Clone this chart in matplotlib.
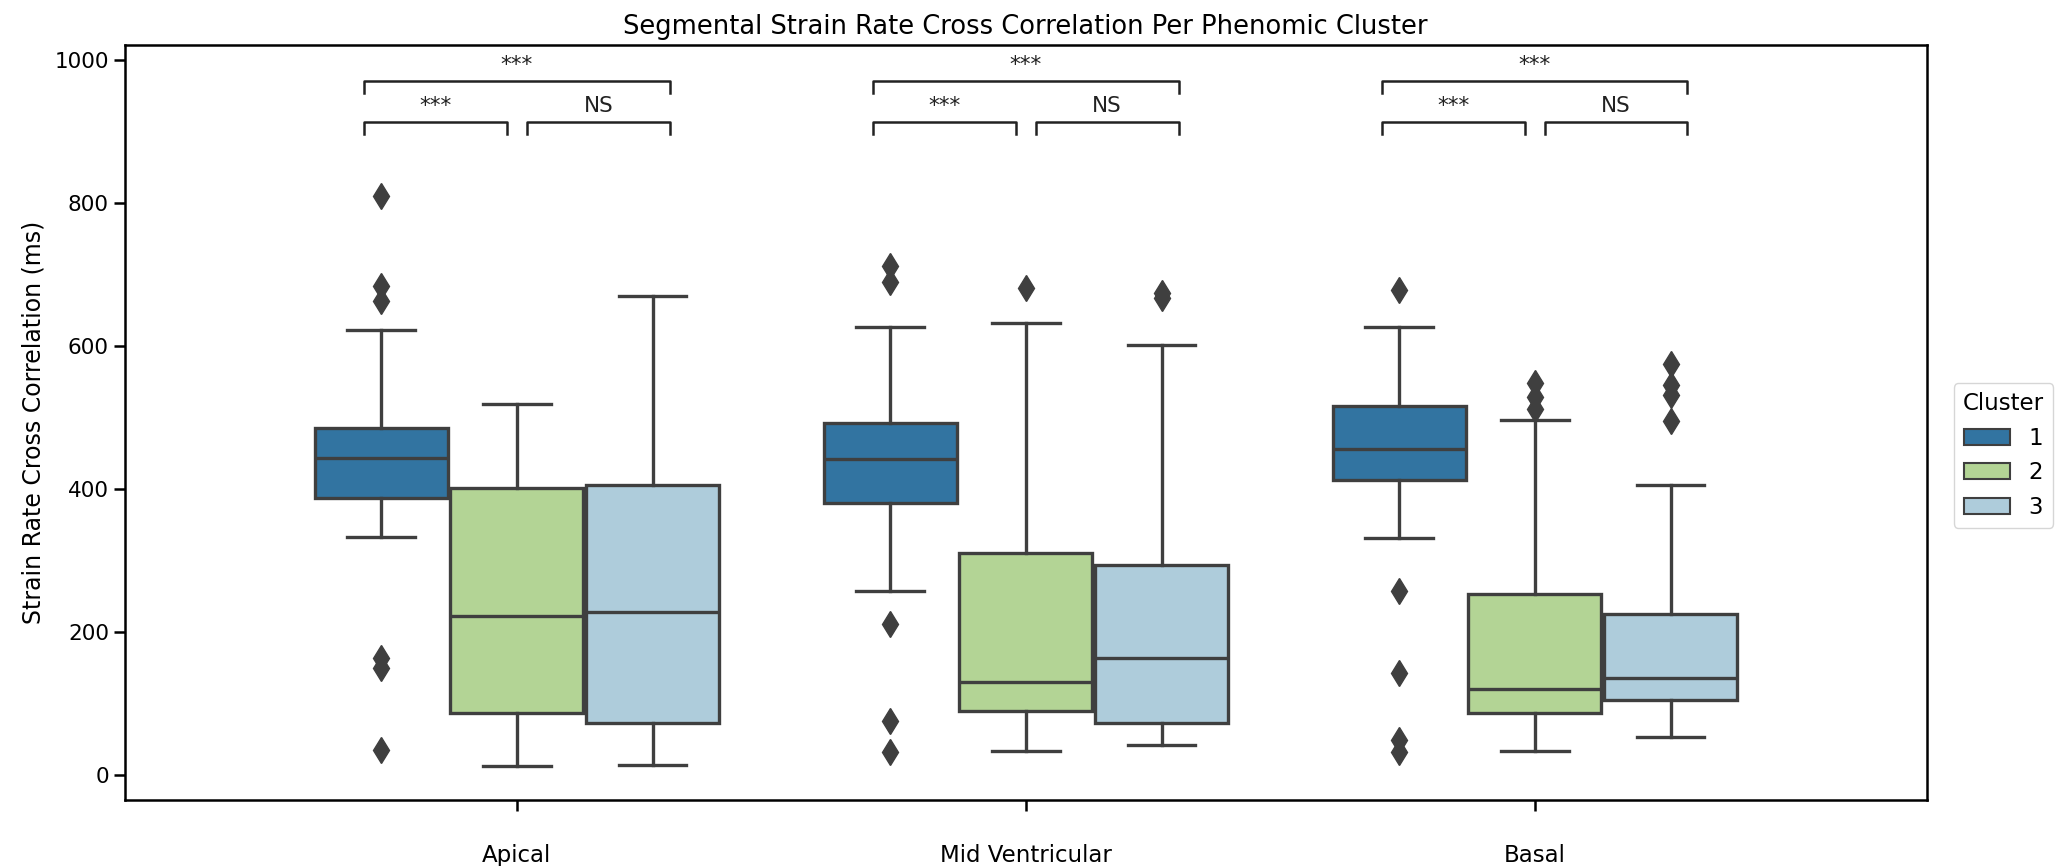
import matplotlib
matplotlib.use("Agg")
import matplotlib.pyplot as plt
import seaborn as sns
from matplotlib.patches import Patch

# categories and hue levels
segments = ["Apical", "Mid Ventricular", "Basal"]
clusters = ["1", "2", "3"]

# box statistics, [segment][cluster]
whislo = [[333, 13, 14], [257, 34, 42], [331, 34, 53]]
q1 = [[388, 87, 73], [381, 90, 73], [413, 86, 105]]
med = [[443, 222, 228], [442, 130, 164], [456, 120, 135]]
q3 = [[485, 402, 405], [492, 310, 293], [516, 253, 225]]
whishi = [[622, 519, 670], [627, 632, 601], [627, 496, 405]]
fliers = [
    [[810, 684, 663, 164, 149, 35], [], []],
    [[712, 690, 211, 76, 32], [681], [674, 667]],
    [[678, 257, 143, 49, 32], [548, 529, 512], [575, 545, 532, 495]],
]

# significance labels per segment: (1 vs 2), (2 vs 3), (1 vs 3)
sig_labels = ["***", "NS", "***"]

base_colors = ["#1f78b4", "#b2df8a", "#a6cee3"]
colors = [sns.desaturate(c, 0.75) for c in base_colors]
gray = "#3f3f3f"

fig = plt.figure(figsize=(20.58, 8.66), dpi=100)
ax = fig.add_axes([0.0607, 0.0762, 0.8755, 0.872])

width = 0.8 / len(clusters)
offsets = [(j - 1) * width for j in range(len(clusters))]

for i, seg in enumerate(segments):
    for j, cl in enumerate(clusters):
        stats = [{
            "whislo": whislo[i][j], "q1": q1[i][j], "med": med[i][j],
            "q3": q3[i][j], "whishi": whishi[i][j], "fliers": fliers[i][j],
        }]
        ax.bxp(stats, positions=[i + offsets[j]], widths=width * 0.98,
               capwidths=width * 0.5, patch_artist=True, manage_ticks=False,
               boxprops=dict(facecolor=colors[j], edgecolor=gray, linewidth=2.4),
               medianprops=dict(color=gray, linewidth=2.4),
               whiskerprops=dict(color=gray, linewidth=2.4),
               capprops=dict(color=gray, linewidth=2.4),
               flierprops=dict(marker="d", markersize=13, markerfacecolor=gray,
                               markeredgecolor=gray, linestyle="none"))

    # significance brackets
    brackets = [(-0.3, -0.02, 913), (0.02, 0.3, 913), (-0.3, 0.3, 971)]
    for (x0, x1, y), lab in zip(brackets, sig_labels):
        ax.plot([i + x0, i + x0, i + x1, i + x1], [y - 17, y, y, y - 17],
                color="#222222", linewidth=1.8)
        ax.text(i + (x0 + x1) / 2, y + 8, lab, ha="center", va="bottom",
                fontsize=15.5, color="#222222")

ax.set_xlim(-0.77, 2.77)
ax.set_ylim(-35, 1021)
ax.set_xticks(range(len(segments)))
ax.set_xticklabels(segments)
ax.set_yticks([0, 200, 400, 600, 800, 1000])
ax.tick_params(axis="both", length=8, width=1.8)
ax.tick_params(axis="y", labelsize=15.5)
ax.tick_params(axis="x", labelsize=16.5, pad=24)
for sp in ax.spines.values():
    sp.set_linewidth(1.8)

ax.set_ylabel("Strain Rate Cross Correlation (ms)", fontsize=17)
ax.yaxis.set_label_coords(-0.044, 0.5)
ax.set_title("Segmental Strain Rate Cross Correlation Per Phenomic Cluster",
             fontsize=18.5, pad=8)

handles = [Patch(facecolor=colors[j], edgecolor=gray, linewidth=1.5, label=cl)
           for j, cl in enumerate(clusters)]
ax.legend(handles=handles, title="Cluster", loc="center left",
          bbox_to_anchor=(1.015, 0.456), borderaxespad=0, fontsize=16.5,
          title_fontsize=16.5)

fig.savefig("out.png", dpi=100)
